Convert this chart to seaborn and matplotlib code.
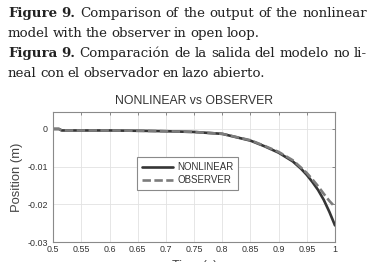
import matplotlib
matplotlib.use('Agg')
import matplotlib.pyplot as plt
from matplotlib.patches import Rectangle
import seaborn as sns
import pandas as pd

# values
time = [0.5, 0.51, 0.515, 0.6, 0.66, 0.7, 0.75, 0.8, 0.85, 0.875, 0.9, 0.925,
        0.94, 0.95, 0.96, 0.97, 0.98, 0.99, 1.0]
nonlinear = [0, 0, -0.0004, -0.0004, -0.0005, -0.0006, -0.0008, -0.0013, -0.0031,
             -0.0046, -0.0063, -0.0086, -0.0106, -0.0122, -0.0141, -0.0162,
             -0.0188, -0.0220, -0.0256]
observer = [0, 0, -0.0004, -0.0004, -0.0005, -0.0006, -0.0008, -0.0013, -0.0030,
            -0.0045, -0.0061, -0.0083, -0.0103, -0.0117, -0.0134, -0.0152,
            -0.0172, -0.0191, -0.0207]
series_names = ['NONLINEAR', 'OBSERVER']
xticks = [0.5, 0.55, 0.6, 0.65, 0.7, 0.75, 0.8, 0.85, 0.9, 0.95, 1.0]
xticklabels = ['0.5', '0.55', '0.6', '0.65', '0.7', '0.75', '0.8', '0.85', '0.9', '0.95', '1']
yticks = [0, -0.01, -0.02, -0.03]
yticklabels = ['0', '-0.01', '-0.02', '-0.03']

# caption lines: (bold lead, rest, justified?)
caption = [('Figure 9.', 'Comparison of the output of the nonlinear', True),
           ('', 'model with the observer in open loop.', False),
           ('Figura 9.', 'Comparación de la salida del modelo no li-', True),
           ('', 'neal con el observador en lazo abierto.', False)]

df = pd.DataFrame({'time': time * 2,
                   'position': nonlinear + observer,
                   'series': [series_names[0]] * len(time) + [series_names[1]] * len(time)})

sns.set_style('whitegrid')
plt.rcParams['font.family'] = ['Liberation Sans', 'DejaVu Sans']

W, H = 377, 275
fig = plt.figure(figsize=(W / 100, H / 100), dpi=100)
ax = fig.add_axes([53.3 / W, 1 - 242 / H, (335 - 53.3) / W, 130 / H])

sns.lineplot(data=df, x='time', y='position', hue='series', style='series',
             palette={'NONLINEAR': '#353535', 'OBSERVER': '#7c7c7c'},
             dashes={'NONLINEAR': '', 'OBSERVER': (3.2, 1.3)},
             linewidth=1.9, legend=False, ax=ax, sort=False)

ax.set_xlim(0.5, 1.0)
ax.set_ylim(-0.03, 0.0045)
ax.set_xticks(xticks)
ax.set_xticklabels(xticklabels)
ax.set_yticks(yticks)
ax.set_yticklabels(yticklabels)
ax.tick_params(direction='in', length=2, width=0.6, color='#777', labelsize=6.4,
               labelcolor='#333', pad=2.5, top=True, right=True)
ax.tick_params(axis='y', pad=4)
ax.grid(True, color='#e2e2e2', linewidth=0.6)
for s in ax.spines.values():
    s.set_color('#8a8a8a')
    s.set_linewidth(0.8)
ax.set_facecolor('white')

ax.set_title('NONLINEAR vs OBSERVER', fontsize=8.8, color='#333', pad=6)
ax.set_ylabel('Position (m)', fontsize=9.4, color='#444', labelpad=3)
ax.set_xlabel('Time (s)', fontsize=9, color='#444', labelpad=4)

leg = ax.legend(ax.lines[:2], series_names, loc='upper left',
                bbox_to_anchor=(0.298, 0.652), borderaxespad=0, fontsize=7,
                handlelength=3.2, handletextpad=0.4, borderpad=0.5,
                labelspacing=0.3, fancybox=False, framealpha=1,
                edgecolor='#8a8a8a')
leg.get_frame().set_linewidth(0.8)
for t in leg.get_texts():
    t.set_color('#333')

# caption above the chart, set word by word so lines 1 and 3 are justified
renderer = fig.canvas.get_renderer()
serif = ['DejaVu Serif']
fs = 9.6
left, right = 8.0, 367.0
for i, (bold, rest, justify) in enumerate(caption):
    y0 = 1 - (16.7 + 20 * i) / H
    words = [(w, 'bold') for w in bold.split()] + [(w, 'normal') for w in rest.split()]
    texts = []
    for w, wt in words:
        t = fig.text(0, y0, w, family=serif, weight=wt, fontsize=fs,
                     color='#222', va='baseline')
        texts.append(t)
    widths = [t.get_window_extent(renderer).width for t in texts]
    if justify:
        gap = (right - left - sum(widths)) / (len(texts) - 1)
    else:
        gap = fs * 1.389 * 0.25
    x = left
    for t, w in zip(texts, widths):
        t.set_x(x / W)
        x += w + gap

# scan is cut just under the axis label
fig.patches.append(Rectangle((0, 0), 1, 13 / H, transform=fig.transFigure,
                             facecolor='white', edgecolor='none', zorder=10))

fig.savefig('out.png', dpi=100)
